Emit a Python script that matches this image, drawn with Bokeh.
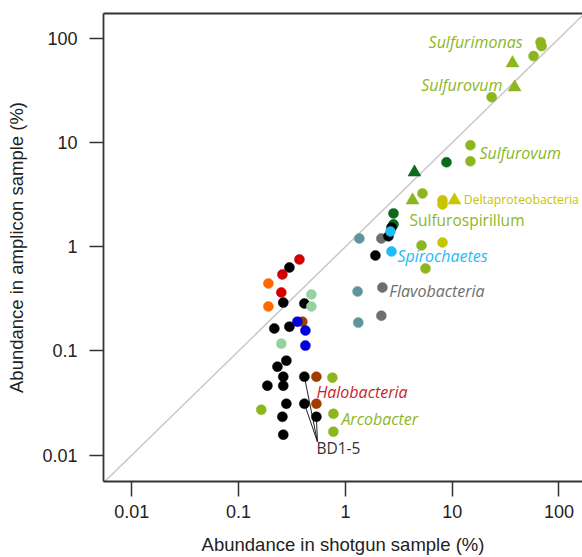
from bokeh.plotting import figure
from bokeh.models import FixedTicker, LogAxis, Range1d
from bokeh.embed import file_html
from bokeh.resources import INLINE
from bokeh.core.properties import value

# ---- data (abundance %, shotgun x vs amplicon y) ----
lime_x = [67.2, 68.7, 57.8, 23.4, 14.8, 14.8, 5.27, 5.16, 5.62, 0.755, 0.772, 0.772, 0.163]
lime_y = [92.1, 84.3, 67.6, 27.3, 9.42, 6.61, 3.25, 1.03, 0.618, 0.0554, 0.0249, 0.0168, 0.0273]
lime_tri_x = [36.7, 38.4, 4.25]
lime_tri_y = [57.9, 34.0, 2.79]
yellow_x = [8.11, 8.11, 8.11]
yellow_y = [2.79, 2.55, 1.10]
yellow_tri_x = [10.5]
yellow_tri_y = [2.79]
dkgreen_x = [8.84, 2.82, 2.82]
dkgreen_y = [6.47, 2.09, 1.64]
dkgreen_tri_x = [4.43]
dkgreen_tri_y = [5.18]
black_x = [2.70, 2.53, 1.91, 0.299, 0.262, 0.413, 0.216, 0.299, 0.280, 0.231, 0.262,
           0.413, 0.186, 0.262, 0.280, 0.413, 0.257, 0.535, 0.262]
black_y = [1.53, 1.26, 0.825, 0.632, 0.291, 0.285, 0.164, 0.171, 0.0807, 0.0706, 0.0566,
           0.0566, 0.0464, 0.0464, 0.0311, 0.0311, 0.0233, 0.0233, 0.0157]
cyan_x = [2.64, 2.70]
cyan_y = [1.40, 0.901]
gray_x = [2.17, 2.22, 2.17]
gray_y = [1.20, 0.406, 0.218]
teal_x = [1.35, 1.30, 1.32]
teal_y = [1.20, 0.372, 0.187]
red_x = [0.371, 0.257, 0.251]
red_y = [0.755, 0.542, 0.364]
orange_x = [0.190, 0.190]
orange_y = [0.444, 0.267]
palegreen_x = [0.480, 0.480, 0.251]
palegreen_y = [0.348, 0.267, 0.1175]
brown_x = [0.395, 0.535, 0.535]
brown_y = [0.191, 0.0566, 0.0311]
blue_x = [0.355, 0.422, 0.422]
blue_y = [0.191, 0.157, 0.1125]

# labels
lab_text = ["Sulfurimonas", "Sulfurovum", "Sulfurovum", "Spirochaetes", "Flavobacteria",
            "Halobacteria", "Arcobacter"]
lab_x = [45.6, 29.6, 18.0, 3.07, 2.58, 0.535, 0.917]
lab_y = [92.1, 35.6, 7.89, 0.807, 0.374, 0.0406, 0.0223]
lab_align = ["right", "right", "left", "left", "left", "left", "left"]
lab_color = ["#8DB61E", "#8DB61E", "#8DB61E", "#1EBBF5", "#6E6E6E", "#C81E28", "#8DB61E"]

bd_anchor = (0.547, 0.01342)
bd_targets_x = [0.413, 0.413, 0.535]
bd_targets_y = [0.0566, 0.0311, 0.0233]

ticks = [0.01, 0.1, 1, 10, 100]
tick_labels = ["0.01", "0.1", "1", "10", "100"]
diag = [0.001, 1000]

LIME = "#8DB61E"
p = figure(width=582, height=557, x_axis_type="log", y_axis_type="log",
           x_range=Range1d(0.00543, 166), y_range=Range1d(0.00558, 173.4),
           output_backend="svg", toolbar_location=None,
           min_border_left=103, min_border_right=0, min_border_top=13, min_border_bottom=74)
p.outline_line_color = None
p.xgrid.visible = False
p.ygrid.visible = False
p.background_fill_color = "white"

for ax in (p.xaxis[0], p.yaxis[0]):
    ax.ticker = FixedTicker(ticks=ticks)
    ax.major_label_overrides = {t: l for t, l in zip(ticks, tick_labels)}
    ax.minor_tick_line_color = None
    ax.major_tick_in = 0
    ax.major_tick_line_width = 1.5
    ax.major_tick_line_color = "#333333"
    ax.axis_line_width = 1.8
    ax.axis_line_color = "#333333"
    ax.major_label_text_font = "Liberation Sans"
    ax.major_label_text_font_size = "18px"
    ax.major_label_text_color = "#222222"
    ax.axis_label_text_font = "Liberation Sans"
    ax.axis_label_text_font_size = "18.5px"
    ax.axis_label_text_font_style = "normal"
    ax.axis_label_text_color = "#222222"

p.xaxis.axis_label = "Abundance in shotgun sample (%)"
p.yaxis.axis_label = "Abundance in amplicon sample (%)"
p.xaxis.major_tick_out = 15
p.xaxis.major_label_standoff = 8
p.xaxis.axis_label_standoff = 13
p.yaxis.major_tick_out = 14
p.yaxis.major_label_standoff = 12
p.yaxis.major_label_orientation = "horizontal"
p.yaxis.axis_label_standoff = 12

top = LogAxis(ticker=FixedTicker(ticks=[]), major_label_text_font_size="0px",
              major_tick_out=0, major_tick_in=0, minor_tick_line_color=None,
              axis_line_width=1.8, axis_line_color="#333333")
p.add_layout(top, "above")

p.line(diag, diag, line_color="#C8C8C8", line_width=1.5)

# BD1-5 leader lines
for tx, ty in zip(bd_targets_x, bd_targets_y):
    p.line([bd_anchor[0], tx], [bd_anchor[1], ty], line_color="#222222", line_width=1)

S = 10
def dots(xs, ys, c, marker="circle", size=S):
    p.scatter(xs, ys, marker=marker, size=size, fill_color=c, line_color=c, line_width=0.5)

dots(lime_x, lime_y, LIME)
dots(lime_tri_x, lime_tri_y, LIME, "triangle", 13)
dots(yellow_x, yellow_y, "#C8C400")
dots(yellow_tri_x, yellow_tri_y, "#C8C400", "triangle", 13)
dots(dkgreen_x, dkgreen_y, "#0B6B1A")
dots(dkgreen_tri_x, dkgreen_tri_y, "#0B6B1A", "triangle", 13)
dots(teal_x, teal_y, "#5F969B")
dots(gray_x, gray_y, "#6E6E6E")
dots(black_x, black_y, "black")
dots(cyan_x, cyan_y, "#1EBBF5")
dots(red_x, red_y, "#D20000")
dots(orange_x, orange_y, "#FF6A00")
dots(palegreen_x, palegreen_y, "#96D2A0")
dots(brown_x, brown_y, "#A03C00")
dots(blue_x, blue_y, "#0000DC")

p.text(lab_x, lab_y, text=lab_text, text_align=lab_align, text_baseline="middle",
       text_color=lab_color, text_font=value("Open Sans"), text_font_style="italic",
       text_font_size="16px")
p.text([3.98], [1.79], text=["Sulfurospirillum"], text_baseline="middle", text_color=LIME,
       text_font=value("Open Sans"), text_font_size="15.5px")
p.text([12.8], [2.85], text=["Deltaproteobacteria"], text_baseline="middle",
       text_color="#C8C400", text_font=value("Open Sans"), text_font_size="12.3px")
p.text([0.535], [0.01175], text=["BD1-5"], text_baseline="middle", text_color="#333333",
       text_font=value("Open Sans"), text_font_size="15.5px")

open("out.html", "w").write(file_html(p, INLINE))
